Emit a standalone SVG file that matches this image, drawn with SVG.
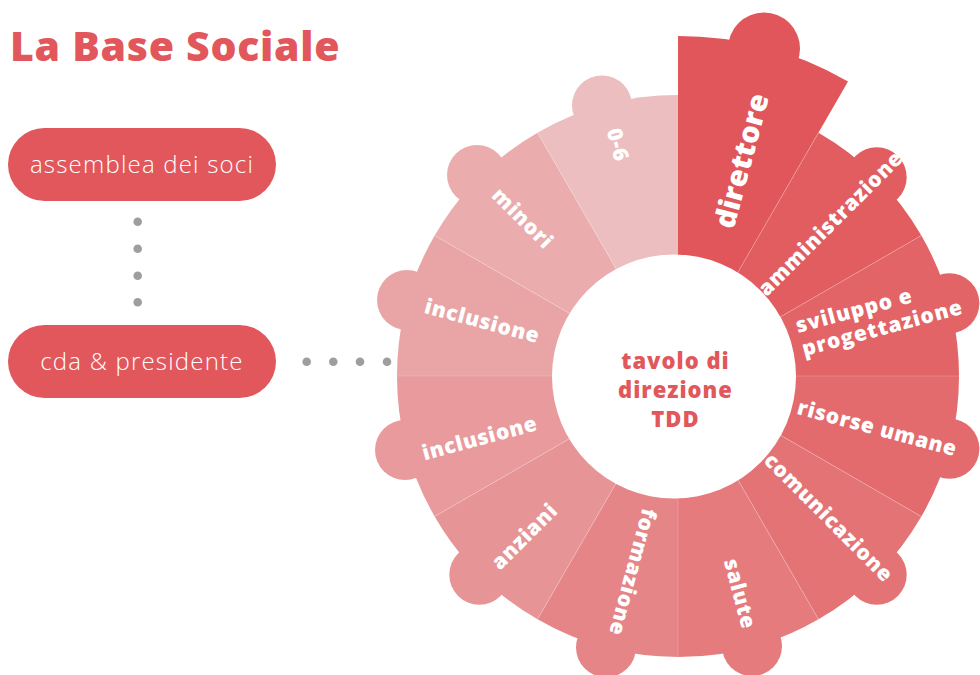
<svg xmlns="http://www.w3.org/2000/svg" width="980" height="675" viewBox="0 0 980 675">
<style>
.t{font-family:"Open Sans","Liberation Sans",Arial,sans-serif}
.title{font-size:41px;font-weight:800;fill:#E1575B;letter-spacing:0.7px}
.box{fill:#E1575B}
.bt{font-size:24px;font-weight:300;fill:#fff;letter-spacing:1.2px;text-anchor:middle}
.dot{fill:#9E9E9E}
.lbl{font-size:21px;font-weight:800;fill:#fff;letter-spacing:0.7px;text-anchor:middle}
.ctr{font-size:22px;font-weight:800;fill:#E1575B;letter-spacing:1px;text-anchor:middle}
.div{stroke:#fff;stroke-opacity:0.25;stroke-width:0.8}
</style>
<rect width="980" height="675" fill="#fff"/>
<text class="t title" x="10" y="61">La Base Sociale</text>

<g id="node-assemblea">
<rect class="box" x="8" y="128" width="268" height="73" rx="36.5"/>
<text class="t bt" x="142" y="173">assemblea dei soci</text>
</g>
<g id="node-cda">
<rect class="box" x="8" y="325" width="268" height="73" rx="36.5"/>
<text class="t bt" x="142" y="370">cda &amp; presidente</text>
</g>

<g id="connectors">
<circle class="dot" cx="137.7" cy="221.7" r="4.3"/>
<circle class="dot" cx="137.7" cy="248.7" r="4.3"/>
<circle class="dot" cx="137.7" cy="275.7" r="4.3"/>
<circle class="dot" cx="137.7" cy="302.3" r="4.3"/>
<circle class="dot" cx="306.7" cy="361.7" r="4.3"/>
<circle class="dot" cx="333.3" cy="361.7" r="4.3"/>
<circle class="dot" cx="360" cy="361.7" r="4.3"/>
<circle class="dot" cx="387" cy="361.7" r="4.3"/>
</g>

<g id="wheel">
<g id="seg-amministrazione" fill="#E25D60"><path d="M678 376 L818.5 132.65 A281 281 0 0 1 921.35 235.5 Z"/><circle cx="876.7" cy="177.3" r="30"/></g>
<g id="seg-sviluppo" fill="#E26467"><path d="M678 376 L921.35 235.5 A281 281 0 0 1 959 376 Z"/><circle cx="949.4" cy="303.3" r="30"/></g>
<g id="seg-risorse" fill="#E36B6E"><path d="M678 376 L959 376 A281 281 0 0 1 921.35 516.5 Z"/><circle cx="949.4" cy="448.7" r="30"/></g>
<g id="seg-comunicazione" fill="#E47376"><path d="M678 376 L921.35 516.5 A281 281 0 0 1 818.5 619.35 Z"/><circle cx="876.7" cy="574.7" r="30"/></g>
<g id="seg-salute" fill="#E57B7D"><path d="M678 376 L818.5 619.35 A281 281 0 0 1 678 657 Z"/><circle cx="752" cy="646" r="30"/></g>
<g id="seg-formazione" fill="#E68587"><path d="M678 376 L678 657 A281 281 0 0 1 537.5 619.35 Z"/><circle cx="606" cy="647.4" r="30"/></g>
<g id="seg-anziani" fill="#E79496"><path d="M678 376 L537.5 619.35 A281 281 0 0 1 434.65 516.5 Z"/><circle cx="479.3" cy="574.7" r="30"/></g>
<g id="seg-inclusione-2" fill="#E89A9C"><path d="M678 376 L434.65 516.5 A281 281 0 0 1 397 376 Z"/><circle cx="405" cy="450" r="30"/></g>
<g id="seg-inclusione-1" fill="#E9A4A5"><path d="M678 376 L397 376 A281 281 0 0 1 434.65 235.5 Z"/><circle cx="407" cy="300" r="30"/></g>
<g id="seg-minori" fill="#EAACAD"><path d="M678 376 L434.65 235.5 A281 281 0 0 1 537.5 132.65 Z"/><circle cx="477" cy="175" r="30"/></g>
<g id="seg-06" fill="#ECBEBF"><path d="M678 376 L537.5 132.65 A281 281 0 0 1 678 95 Z"/><circle cx="602" cy="105.5" r="30"/></g>
<g id="seg-direttore" fill="#E0565A"><path d="M678 376 L678 36 A340 340 0 0 1 848 81.6 Z"/><circle cx="764" cy="48.5" r="36"/></g>

<g id="dividers">
<line class="div" x1="678" y1="266" x2="678" y2="95" transform="rotate(30 678 376)"/>
<line class="div" x1="678" y1="266" x2="678" y2="95" transform="rotate(60 678 376)"/>
<line class="div" x1="678" y1="266" x2="678" y2="95" transform="rotate(90 678 376)"/>
<line class="div" x1="678" y1="266" x2="678" y2="95" transform="rotate(120 678 376)"/>
<line class="div" x1="678" y1="266" x2="678" y2="95" transform="rotate(150 678 376)"/>
<line class="div" x1="678" y1="266" x2="678" y2="95" transform="rotate(180 678 376)"/>
<line class="div" x1="678" y1="266" x2="678" y2="95" transform="rotate(210 678 376)"/>
<line class="div" x1="678" y1="266" x2="678" y2="95" transform="rotate(240 678 376)"/>
<line class="div" x1="678" y1="266" x2="678" y2="95" transform="rotate(270 678 376)"/>
<line class="div" x1="678" y1="266" x2="678" y2="95" transform="rotate(300 678 376)"/>
<line class="div" x1="678" y1="266" x2="678" y2="95" transform="rotate(330 678 376)"/>
</g>

<g id="labels">
<text class="t lbl" style="font-size:29px;letter-spacing:0.2px" transform="translate(743 161) rotate(-75)" dy="0.3em">direttore</text>
<text class="t lbl" transform="translate(831 224) rotate(-45)" dy="0.3em">amministrazione</text>
<text class="t lbl" style="text-anchor:start;letter-spacing:1px" transform="translate(798 333) rotate(-15)"><tspan x="0" y="0">sviluppo e</tspan><tspan x="0" y="24">progettazione</tspan></text>
<text class="t lbl" transform="translate(877 429) rotate(15)" dy="0.3em">risorse umane</text>
<text class="t lbl" transform="translate(828 518) rotate(45)" dy="0.3em">comunicazione</text>
<text class="t lbl" transform="translate(739 594) rotate(75)" dy="0.3em">salute</text>
<text class="t lbl" transform="translate(632 572) rotate(105)" dy="0.3em">formazione</text>
<text class="t lbl" transform="translate(525 537) rotate(-45)" dy="0.3em">anziani</text>
<text class="t lbl" transform="translate(480 439) rotate(-15)" dy="0.3em">inclusione</text>
<text class="t lbl" transform="translate(482 322) rotate(15)" dy="0.3em">inclusione</text>
<text class="t lbl" transform="translate(522 219) rotate(45)" dy="0.3em">minori</text>
<text class="t lbl" transform="translate(617 145) rotate(75)" dy="0.3em">0-6</text>
</g>
</g>

<g id="node-tdd">
<circle cx="674" cy="376.5" r="122" fill="#fff"/>
<text class="t ctr" x="675.5" y="369">tavolo di</text>
<text class="t ctr" x="675.5" y="398">direzione</text>
<text class="t ctr" x="675.5" y="427">TDD</text>
</g>
</svg>
